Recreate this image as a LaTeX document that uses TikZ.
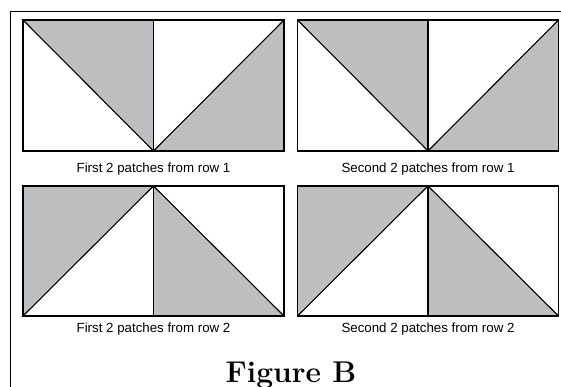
\documentclass[tikz,border=0pt]{standalone}
\usepackage{fontspec}
\newfontfamily\capfont{Liberation Sans}
\definecolor{patchgray}{RGB}{189,190,192}
\tikzset{
  panelline/.style={line width=1.1pt, line join=miter},
  shade/.style={fill=patchgray},
  caption/.style={font=\capfont\fontsize{13.3}{15}\selectfont, anchor=base, inner sep=0pt},
  title/.style={font=\bfseries\fontsize{30}{32}\selectfont, anchor=base, inner sep=0pt},
  pics/rowone/.style={code={
    \fill[shade] (0,0) -- (130.5,0) -- (130.5,131) -- cycle;
    \fill[shade] (130.5,131) -- (261,0) -- (261,131) -- cycle;
    \draw[panelline] (0,0) rectangle (261,131);
    \draw[panelline] (130.5,0) -- (130.5,131);
    \draw[panelline] (0,0) -- (130.5,131) -- (261,0);
  }},
  pics/rowtwo/.style={code={
    \fill[shade] (0,0) -- (130.5,0) -- (0,130) -- cycle;
    \fill[shade] (130.5,0) -- (130.5,130) -- (261,130) -- cycle;
    \draw[panelline] (0,0) rectangle (261,130);
    \draw[panelline] (130.5,0) -- (130.5,130);
    \draw[panelline] (0,130) -- (130.5,0) -- (261,130);
  }}
}
\begin{document}
\begin{tikzpicture}[x=1pt,y=-1pt]
\useasboundingbox (0,0) rectangle (561,387);
\clip (0,0) rectangle (561,387);
\fill[white] (0,0) rectangle (561,387);
\draw[line width=0.9pt] (10,400) -- (10,11) -- (570,11);
\pic at (23,20) {rowone};
\pic at (297.5,20) {rowone};
\pic at (23,186) {rowtwo};
\pic at (297.5,186) {rowtwo};
\node[caption] (c1) at (153.5,172.5) {First 2 patches from row 1};
\node[caption] (c2) at (428,172.5) {Second 2 patches from row 1};
\node[caption] (c3) at (153.5,332.5) {First 2 patches from row 2};
\node[caption] (c4) at (428,332.5) {Second 2 patches from row 2};
\node[title] (t) at (291,382) {Figure B};
\end{tikzpicture}
\end{document}
